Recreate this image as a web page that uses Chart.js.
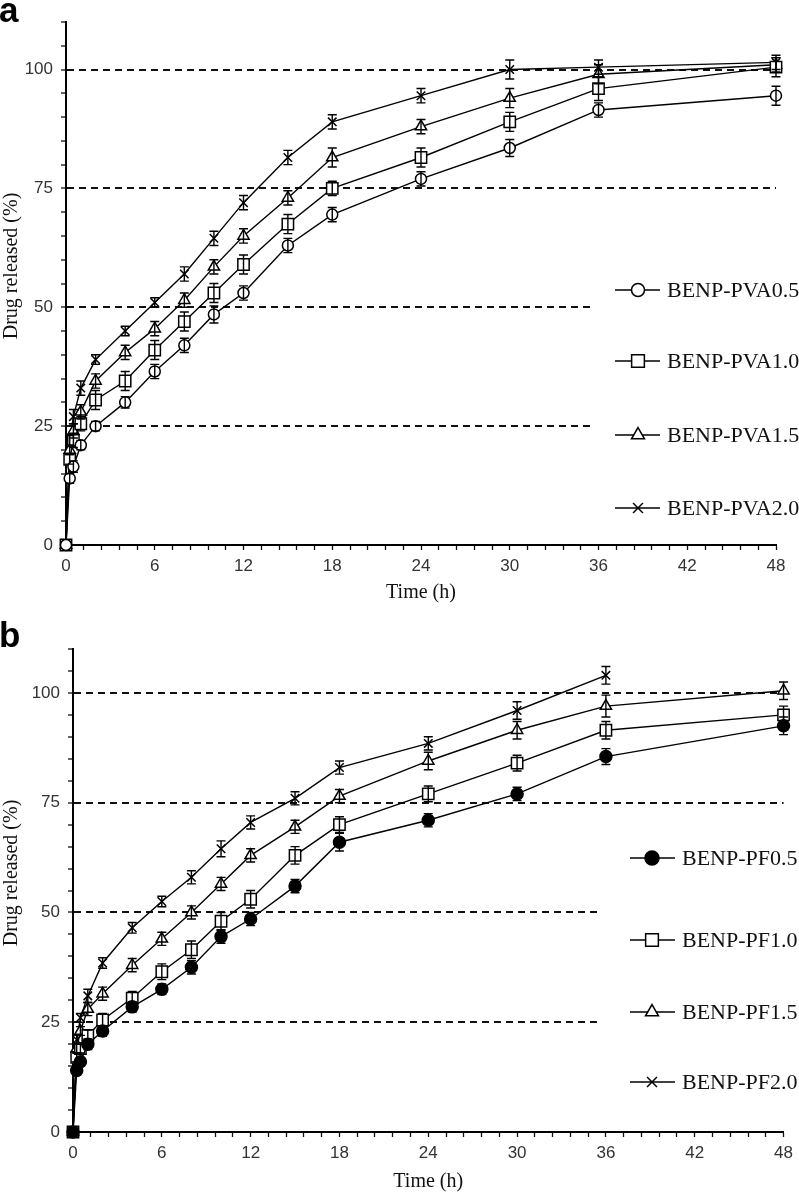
<!DOCTYPE html>
<html>
<head>
<meta charset="utf-8">
<script src="https://cdn.jsdelivr.net/npm/chart.js@4.4.1/dist/chart.umd.min.js"></script>
<style>
  html, body { margin: 0; padding: 0; background: #fff; }
  #wrap { position: relative; width: 799px; height: 1196px; overflow: hidden; }
  canvas { position: absolute; left: 0; }
  #chartA { top: 0; }
  #chartB { top: 600px; }
</style>
</head>
<body>
<div id="wrap">
  <canvas id="chartA" width="799" height="610"></canvas>
  <canvas id="chartB" width="799" height="596"></canvas>
</div>
<script>
// sampling times (h)
const times = [0, 0.25, 0.5, 1, 2, 4, 6, 8, 10, 12, 15, 18, 24, 30, 36, 48];

// panel a - PVA
const pvaLabels = ["BENP-PVA0.5", "BENP-PVA1.0", "BENP-PVA1.5", "BENP-PVA2.0"];
const pva05 = [0, 14, 16.5, 21, 25, 30, 36.5, 42, 48.5, 53, 63, 69.5, 77, 83.5, 91.5, 94.5];
const pva10 = [0, 18, 22, 25.5, 30.5, 34.5, 41, 47, 53, 59, 67.5, 75, 81.5, 89, 96, 100.5];
const pva15 = [0, 20, 24, 28, 34.5, 40.5, 45.5, 51.5, 58.5, 65, 73, 81.5, 88, 94, 99, 101];
const pva20 = [0, 22, 27, 33, 39, 45, 51, 57, 64.5, 72, 81.5, 89, 94.5, 100, 100.5, 101.5];
const pva05Err = [0, 1, 1.2, 1, 1, 1.2, 1.5, 1.5, 1.8, 1.5, 1.5, 1.5, 1.5, 1.8, 1.5, 2];
const pva10Err = [0, 1, 1.5, 1.5, 2, 2, 2, 2, 2, 2, 2, 1.5, 2, 2, 2.5, 2];
const pva15Err = [0, 1, 1.5, 1.5, 1.5, 1.5, 1.5, 1.5, 1.5, 1.5, 1.5, 2, 1.5, 2, 2, 1.5];
const pva20Err = [0, 1, 1.5, 1.5, 1, 1, 1, 1.5, 1.5, 1.5, 1.5, 1.5, 1.5, 2, 1.5, 1.5];

// panel b - PF
const pfLabels = ["BENP-PF0.5", "BENP-PF1.0", "BENP-PF1.5", "BENP-PF2.0"];
const pf05 = [0, 14, 16, 20, 23, 28.5, 32.5, 37.5, 44.5, 48.5, 56, 66, 71, 77, 85.5, 92.5];
const pf10 = [0, 17, 19, 22, 25.5, 30.5, 36.5, 41.5, 48, 53, 63, 70, 77, 84, 91.5, 95];
const pf15 = [0, 19, 23, 28, 31.5, 38, 44, 50, 56.5, 63, 69.5, 76.5, 84.5, 91.5, 97, 100.5];
const pf20 = [0, 21, 26, 31, 38.5, 46.5, 52.5, 58, 64.5, 70.5, 76, 83, 88.5, 96, 104, null];
const pf05Err = [0, 1, 1, 1.2, 1.2, 1.2, 1.2, 1.5, 1.5, 1.5, 1.5, 2, 1.5, 1.5, 1.8, 2];
const pf10Err = [0, 1, 1, 1.2, 1.5, 1.5, 1.8, 2, 2, 2, 2, 1.8, 1.8, 1.8, 2, 2];
const pf15Err = [0, 1, 1, 1.5, 1.5, 1.5, 1.5, 1.5, 1.5, 1.5, 1.5, 1.5, 2, 2, 2.5, 2];
const pf20Err = [0, 1, 1, 1.5, 1.2, 1.2, 1.2, 1.5, 1.8, 1.5, 1.5, 1.5, 1.5, 2, 2, null];

const yTicksLabeled = [0, 25, 50, 75, 100];
const xTicksLabeled = [0, 6, 12, 18, 24, 30, 36, 42, 48];

Chart.defaults.font.family = "'Liberation Sans', Arial, sans-serif";
Chart.defaults.color = "#222";

// layout for each panel (pixels inside its canvas)
const panelLayout = {
  chartA: {
    letter: "a", letterY: 22, yTitleY: 266,
    box: [591, 250, 208, 290],
    rows: [290, 361, 435, 508], lineX0: 615, lineX1: 660, markerX: 638, textX: 667
  },
  chartB: {
    letter: "b", letterY: 47, yTitleY: 273,
    box: [598, 228, 201, 300],
    rows: [258, 340, 412, 482], lineX0: 630, lineX1: 675, markerX: 652, textX: 682
  }
};

function drawMarker(ctx, style, x, y, r, fill) {
  ctx.save();
  ctx.lineWidth = 1.5;
  ctx.strokeStyle = "#000";
  ctx.fillStyle = fill;
  ctx.beginPath();
  if (style === "circle") {
    ctx.arc(x, y, r, 0, Math.PI * 2);
    ctx.fill(); ctx.stroke();
  } else if (style === "rect") {
    const s = r / Math.SQRT2;
    ctx.rect(x - s, y - s, 2 * s, 2 * s);
    ctx.fill(); ctx.stroke();
  } else if (style === "triangle") {
    ctx.moveTo(x, y - r);
    ctx.lineTo(x + Math.sin(2 * Math.PI / 3) * r, y - Math.cos(2 * Math.PI / 3) * r);
    ctx.lineTo(x + Math.sin(4 * Math.PI / 3) * r, y - Math.cos(4 * Math.PI / 3) * r);
    ctx.closePath();
    ctx.fill(); ctx.stroke();
  } else {
    const d = r * Math.SQRT1_2;
    ctx.moveTo(x - d, y - d); ctx.lineTo(x + d, y + d);
    ctx.moveTo(x + d, y - d); ctx.lineTo(x - d, y + d);
    ctx.stroke();
  }
  ctx.restore();
}

const errorBars = {
  id: "errorBars",
  afterDatasetsDraw(chart) {
    const ctx = chart.ctx;
    const xs = chart.scales.x, ys = chart.scales.y;
    ctx.save();
    ctx.strokeStyle = "#000";
    ctx.lineWidth = 1.4;
    chart.data.datasets.forEach((ds) => {
      ds.data.forEach((p, j) => {
        const e = ds.errors[j];
        if (p.y == null || !e) return;
        const x = xs.getPixelForValue(p.x);
        const yt = ys.getPixelForValue(p.y + e);
        const yb = ys.getPixelForValue(p.y - e);
        ctx.beginPath();
        ctx.moveTo(x, yt); ctx.lineTo(x, yb);
        ctx.moveTo(x - 4.5, yt); ctx.lineTo(x + 4.5, yt);
        ctx.moveTo(x - 4.5, yb); ctx.lineTo(x + 4.5, yb);
        ctx.stroke();
      });
    });
    ctx.restore();
  }
};

const panelDecor = {
  id: "panelDecor",
  afterDraw(chart) {
    const L = panelLayout[chart.canvas.id];
    const ctx = chart.ctx;
    ctx.save();
    // panel letter
    ctx.fillStyle = "#000";
    ctx.font = "bold 35px 'Liberation Sans', Arial, sans-serif";
    ctx.textAlign = "left";
    ctx.textBaseline = "alphabetic";
    ctx.fillText(L.letter, -1, L.letterY);
    // y title
    ctx.save();
    ctx.translate(12, L.yTitleY);
    ctx.rotate(-Math.PI / 2);
    ctx.font = "20px 'Liberation Serif', 'Times New Roman', serif";
    ctx.fillStyle = "#111";
    ctx.textAlign = "center";
    ctx.textBaseline = "middle";
    ctx.fillText("Drug released (%)", 0, 0);
    ctx.restore();
    // legend over a white box
    ctx.fillStyle = "#fff";
    ctx.fillRect(L.box[0], L.box[1], L.box[2], L.box[3]);
    chart.data.datasets.forEach((ds, i) => {
      const y = L.rows[i];
      ctx.strokeStyle = "#000";
      ctx.lineWidth = 1.6;
      ctx.beginPath();
      ctx.moveTo(L.lineX0, y); ctx.lineTo(L.lineX1, y);
      ctx.stroke();
      drawMarker(ctx, ds.pointStyle, L.markerX, y, ds.pointRadius + 1, ds.pointBackgroundColor);
      ctx.fillStyle = "#111";
      ctx.font = "22px 'Liberation Serif', 'Times New Roman', serif";
      ctx.textAlign = "left";
      ctx.textBaseline = "middle";
      ctx.fillText(ds.label, L.textX, y + 1);
    });
    ctx.restore();
  }
};

function makeSet(label, values, errs, style, radius, fill) {
  return {
    label: label,
    data: values.map((v, i) => ({ x: times[i], y: v })),
    errors: errs,
    borderColor: "#000",
    borderWidth: 1.4,
    pointStyle: style,
    pointRadius: radius,
    pointBorderWidth: 1.5,
    pointBorderColor: "#000",
    pointBackgroundColor: fill,
    tension: 0,
    clip: false
  };
}

function makeOptions(padTop, padRight, yWidth, xHeight, titlePadBottom) {
  return {
    responsive: false,
    animation: false,
    layout: { padding: { top: padTop, right: padRight, bottom: 0, left: 0 } },
    plugins: { legend: { display: false }, tooltip: { enabled: false } },
    scales: {
      x: {
        type: "linear",
        min: 0, max: 48,
        afterFit: (s) => { s.height = xHeight; },
        ticks: {
          stepSize: 1.2,
          autoSkip: false,
          maxRotation: 0,
          padding: 6,
          color: "#333",
          font: { size: 17 },
          callback: (v) => {
            const r = Math.round(v);
            return (Math.abs(v - r) < 1e-6 && xTicksLabeled.includes(r)) ? String(r) : "";
          }
        },
        grid: { drawOnChartArea: false, tickLength: 5, tickColor: "#111", tickWidth: 1.3 },
        border: { display: true, color: "#000", width: 2 },
        title: {
          display: true, text: "Time (h)", color: "#111",
          font: { family: "'Liberation Serif', 'Times New Roman', serif", size: 20 },
          padding: { top: 0, bottom: titlePadBottom }
        }
      },
      y: {
        min: 0, max: 110,
        afterFit: (s) => { s.width = yWidth; },
        ticks: {
          stepSize: 5,
          autoSkip: false,
          padding: 8,
          color: "#333",
          font: { size: 17 },
          callback: (v) => (yTicksLabeled.includes(v) ? String(v) : "")
        },
        grid: {
          color: (c) => {
            const v = c.tick ? c.tick.value : 0;
            return (v > 0 && v <= 100 && v % 25 === 0) ? "#111" : "rgba(0,0,0,0)";
          },
          lineWidth: 2,
          tickLength: 5,
          tickColor: "#111",
          tickWidth: 1.3
        },
        border: { display: true, color: "#000", width: 2, dash: [7, 5] }
      }
    }
  };
}

new Chart(document.getElementById("chartA"), {
  type: "line",
  data: {
    datasets: [
      makeSet(pvaLabels[0], pva05, pva05Err, "circle", 5.5, "#fff"),
      makeSet(pvaLabels[1], pva10, pva10Err, "rect", 8, "#fff"),
      makeSet(pvaLabels[2], pva15, pva15Err, "triangle", 6.5, "#fff"),
      makeSet(pvaLabels[3], pva20, pva20Err, "crossRot", 6, "#fff")
    ]
  },
  options: makeOptions(22, 23, 66, 65, 5),
  plugins: [errorBars, panelDecor]
});

new Chart(document.getElementById("chartB"), {
  type: "line",
  data: {
    datasets: [
      makeSet(pfLabels[0], pf05, pf05Err, "circle", 6, "#000"),
      makeSet(pfLabels[1], pf10, pf10Err, "rect", 8, "#fff"),
      makeSet(pfLabels[2], pf15, pf15Err, "triangle", 6.5, "#fff"),
      makeSet(pfLabels[3], pf20, pf20Err, "crossRot", 6, "#fff")
    ]
  },
  options: makeOptions(49, 15, 73, 64, 2),
  plugins: [errorBars, panelDecor]
});
</script>
</body>
</html>
